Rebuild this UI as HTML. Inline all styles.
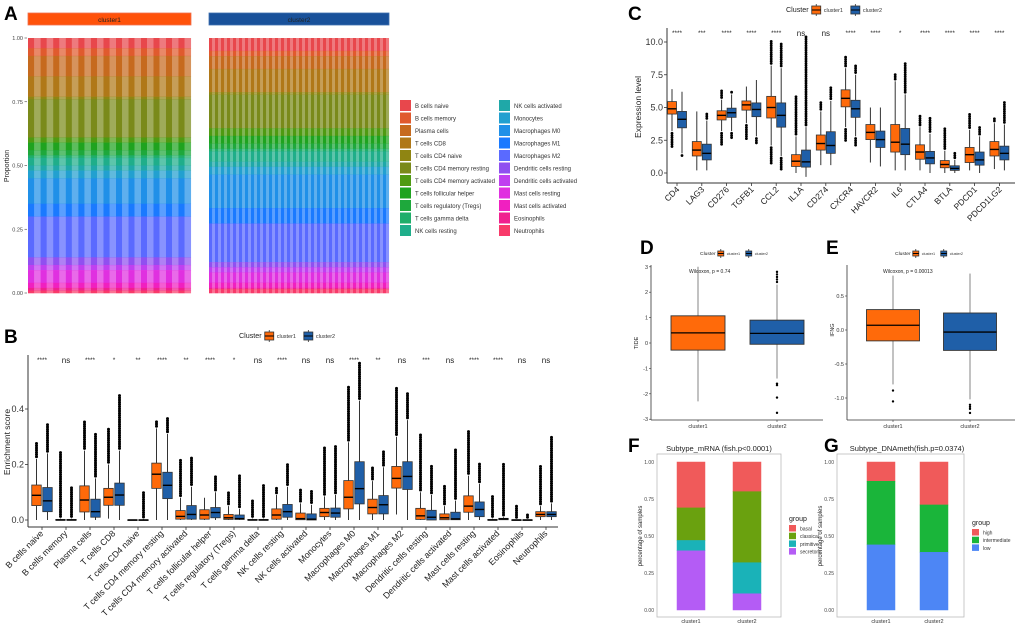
<!DOCTYPE html>
<html><head><meta charset="utf-8">
<style>
html,body{margin:0;padding:0;background:#fff;}
svg{display:block;font-family:"Liberation Sans",Arial,sans-serif;}
</style></head>
<body>
<svg id="fig" width="1020" height="628" viewBox="0 0 1020 628" xmlns="http://www.w3.org/2000/svg">
<rect x="0" y="0" width="1020" height="628" fill="#fff"/>
</svg>
<script>
// ---------- Panel A data ----------
const aCellTypes=["B cells naive","B cells memory","Plasma cells","T cells CD8","T cells CD4 naive","T cells CD4 memory resting","T cells CD4 memory activated","T cells follicular helper","T cells regulatory (Tregs)","T cells gamma delta","NK cells resting","NK cells activated","Monocytes","Macrophages M0","Macrophages M1","Macrophages M2","Dendritic cells resting","Dendritic cells activated","Mast cells resting","Mast cells activated","Eosinophils","Neutrophils"];
const aColors=["#e8474c","#e05a2e","#c66a1e","#b07818","#8f8512","#7a8a1a","#4f9a12","#1fa31f","#1ea83c","#1fae6a","#1fae8a","#1fa8a8","#22a0d0","#2090e8","#1a7aff","#5a6aff","#9050f0","#c040f0","#e030e0","#f020c0","#f0208f","#f83a6a"];
const aPropC1=[0.04,0.03,0.08,0.08,0.01,0.15,0.02,0.03,0.02,0.01,0.03,0.02,0.03,0.10,0.05,0.16,0.03,0.02,0.05,0.02,0.01,0.01];
const aPropC2=[0.05,0.02,0.05,0.09,0.01,0.13,0.03,0.03,0.02,0.01,0.04,0.02,0.03,0.13,0.06,0.15,0.02,0.02,0.04,0.02,0.005,0.015];
const aSamplesC1=26;
const aSamplesC2=60;
const aTicks=[0,0.25,0.5,0.75,1];
// ---------- Panel B data ----------
const bCats=["B cells naive","B cells memory","Plasma cells","T cells CD8","T cells CD4 naive","T cells CD4 memory resting","T cells CD4 memory activated","T cells follicular helper","T cells regulatory (Tregs)","T cells gamma delta","NK cells resting","NK cells activated","Monocytes","Macrophages M0","Macrophages M1","Macrophages M2","Dendritic cells resting","Dendritic cells activated","Mast cells resting","Mast cells activated","Eosinophils","Neutrophils"];
const bSig=["****","ns","****","*","**","****","**","****","*","ns","****","ns","ns","****","**","ns","***","ns","****","****","ns","ns"];
// [outLo, lo, q1, med, q3, hi, outHi]
const bC1=[[0,0,.052,.089,.126,.22,.28],[0,0,0,0,.002,.005,.25],[0,0,.029,.072,.123,.25,.36],[.005,.005,.053,.082,.114,.2,.33],[0,0,0,0,.001,.002,.002],[0,0,.114,.165,.205,.33,.36],[0,0,.003,.013,.034,.08,.22],[0,0,.003,.018,.037,.08,.08],[0,0,.002,.008,.02,.05,.10],[0,0,0,0,.002,.005,.07],[0,0,.003,.018,.04,.09,.12],[0,0,.001,.005,.025,.06,.115],[0,0,.012,.027,.042,.085,.265],[0,0,.04,.082,.142,.28,.48],[0,0,.022,.045,.075,.14,.19],[.02,.02,.115,.15,.193,.3,.48],[0,0,.002,.015,.042,.1,.31],[0,0,.001,.008,.022,.05,.125],[0,0,.028,.05,.087,.16,.32],[0,0,0,0,.002,.005,.09],[0,0,0,0,.001,.002,.05],[0,0,.012,.02,.03,.05,.2]];
const bC2=[[0,0,.03,.069,.117,.24,.345],[0,0,0,0,.002,.005,.12],[0,0,.01,.03,.075,.15,.31],[0,0,.053,.09,.133,.25,.45],[0,0,0,0,.001,.003,.1],[0,0,.077,.125,.172,.31,.37],[0,0,.003,.02,.052,.12,.23],[0,0,.008,.027,.045,.1,.16],[0,0,.002,.005,.018,.04,.16],[0,0,0,0,.002,.005,.13],[0,0,.01,.03,.056,.12,.2],[0,0,0,.003,.022,.055,.11],[0,0,.01,.025,.043,.09,.27],[0,0,.058,.113,.21,.43,.57],[0,0,.022,.055,.088,.19,.25],[0,0,.11,.157,.21,.36,.46],[0,0,0,.01,.035,.09,.2],[0,0,.001,.004,.028,.07,.255],[0,0,.012,.038,.065,.13,.205],[0,0,.001,.004,.006,.01,.205],[0,0,0,0,.001,.002,.02],[0,0,.012,.02,.03,.06,.3]];
const bTicks=[0,0.2,0.4];
// ---------- Panel C data ----------
const cCats=["CD4","LAG3","CD276","TGFB1","CCL2","IL1A","CD274","CXCR4","HAVCR2","IL6","CTLA4","BTLA","PDCD1","PDCD1LG2"];
const cSig=["****","***","****","****","****","ns","ns","****","****","*","****","****","****","****"];
const cC1=[[2.0,3.2,4.5,4.9,5.45,6.4,6.4],[.2,.2,1.3,1.75,2.4,4.7,4.7],[2.2,3.2,4.05,4.4,4.75,5.6,6.4],[2.6,3.8,4.8,5.2,5.5,6.6,6.6],[.6,2.1,4.2,5.0,5.85,8.2,10.1],[0,0,.5,.9,1.4,2.8,5.9],[.6,.6,1.75,2.25,2.9,4.7,5.5],[2.5,3.5,5.05,5.7,6.35,8.0,8.9],[.8,.8,2.55,3.1,3.7,5.0,5.0],[.2,.2,1.6,2.35,3.7,7.0,7.6],[.2,.2,1.05,1.6,2.15,3.5,4.5],[0,0,.4,.65,.95,1.7,3.5],[.2,.2,.8,1.4,1.95,3.3,4.6],[.3,.3,1.3,1.8,2.4,3.8,4.2]];
const cC2=[[1.2,1.5,3.45,4.1,4.7,6.2,6.2],[.2,.2,1.0,1.5,2.2,4.0,4.6],[2.6,3.2,4.25,4.6,4.95,6.0,6.2],[2.3,2.8,4.3,4.85,5.35,7.1,7.1],[.3,1.3,3.5,4.4,5.35,8.0,10.0],[-.3,-.3,.45,.85,1.75,3.5,10.5],[.6,.6,1.5,2.1,3.15,5.5,6.6],[2.0,2.8,4.25,4.9,5.55,7.5,8.2],[.5,.5,1.95,2.55,3.2,5.0,5.0],[.2,.2,1.4,2.2,3.4,6.0,8.4],[0,0,.7,1.15,1.65,3.0,4.3],[0,0,.2,.35,.55,1.0,1.6],[0,0,.6,1.0,1.6,2.8,3.5],[.2,.2,1.0,1.5,2.05,3.7,5.5]];
const cTicks=[0,2.5,5,7.5,10];
// ---------- Panel D/E data ----------
const dGroups=["cluster1","cluster2"];
const dStats=[[-2.3,-0.28,0.4,1.07,3.0],[-1.4,-0.05,0.38,0.9,2.3]];
const dOut1=[];
const dOut2=[2.4,2.5,2.6,2.7,2.8,-1.6,-1.66,-2.15,-2.75];
const dTicks=[-3,-2,-1,0,1,2,3];
const eStats=[[-0.8,-0.16,0.07,0.3,0.8],[-1.02,-0.3,-0.03,0.25,0.83]];
const eOut1=[-0.89,-1.05];
const eOut2=[-1.1,-1.13,-1.16,-1.22];
const eTicks=[-1,-0.5,0,0.5];
// ---------- Panel F/G data ----------
const fGroups=["basal","classical","primitive","secretory"];
const fColors=["#f05a5a","#6aa10f","#1ab2b8","#b45cf5"];
const fC1=[0.31,0.22,0.07,0.40];
const fC2=[0.20,0.48,0.21,0.11];
const gGroups=["high","intermediate","low"];
const gColors=["#f05a5a","#1ab53a","#4d86f5"];
const gC1=[0.13,0.43,0.44];
const gC2=[0.29,0.32,0.39];
const pTicks=[0,0.25,0.5,0.75,1];

const ORANGE="#ff6a0a", BLUE="#1f5fa8";
const NS='http://www.w3.org/2000/svg';
const svg=document.getElementById('fig');
function mk(tag,attrs,parent){const e=document.createElementNS(NS,tag);for(const k in attrs)e.setAttribute(k,attrs[k]);(parent||svg).appendChild(e);return e;}
function txt(x,y,s,attrs,parent){const e=mk('text',Object.assign({x:x,y:y},attrs||{}),parent);e.textContent=s;return e;}
function grp(name,parent){const g=mk('g',{},parent);


return g;}

[["A",4,20],["B",4,343],["C",628,20],["D",640,254],["E",826,254],["F",628,452],["G",824,452]].forEach(function(p){
const t=txt(p[1],p[2],p[0],{'font-size':19,'font-weight':'bold',fill:'#000'});


});

function drawBox(g,cx,w,s,ys,color,r,name){
const bg=grp(name,g);
mk('line',{x1:cx,x2:cx,y1:ys(s[1]),y2:ys(s[2]),stroke:'#333','stroke-width':1},bg);
mk('line',{x1:cx,x2:cx,y1:ys(s[4]),y2:ys(s[5]),stroke:'#333','stroke-width':1},bg);
const rc=mk('rect',{x:cx-w/2,y:ys(s[4]),width:w,height:Math.max(0.8,ys(s[2])-ys(s[4])),fill:color,stroke:'#333','stroke-width':0.8},bg);


mk('line',{x1:cx-w/2,x2:cx+w/2,y1:ys(s[3]),y2:ys(s[3]),stroke:'#000','stroke-width':1.4},bg);
const top=ys(s[6]), hiY=ys(s[5]);
for(let y=hiY-2.2;y>=top-0.1;y-=2.2){mk('circle',{cx:cx,cy:y,r:r,fill:'#000'},bg);}
if(s[6]>s[5]+1e-9 && hiY-top<2.2){mk('circle',{cx:cx,cy:top,r:r,fill:'#000'},bg);}
const bot=ys(s[0]), loY=ys(s[1]);
for(let y=loY+2.2;y<=bot+0.1;y+=2.2){mk('circle',{cx:cx,cy:y,r:r,fill:'#000'},bg);}
if(s[0]<s[1]-1e-9 && bot-loY<2.2){mk('circle',{cx:cx,cy:bot,r:r,fill:'#000'},bg);}
}
function clusterLegend(g,x,y,fs,bw,bh,gap){
const t=txt(x,y+bh/2+fs*0.35,"Cluster",{'font-size':fs*1.3,fill:'#222'},g);


let cx=x+fs*1.3*3.6;
[["cluster1",ORANGE],["cluster2",BLUE]].forEach(function(it){
const e=grp('legend-entry-'+it[0],g);
mk('line',{x1:cx+bw/2,x2:cx+bw/2,y1:y-2,y2:y+bh+2,stroke:'#333','stroke-width':0.8},e);
mk('rect',{x:cx,y:y,width:bw,height:bh,fill:it[1],stroke:'#333','stroke-width':0.8},e);
mk('line',{x1:cx,x2:cx+bw,y1:y+bh/2,y2:y+bh/2,stroke:'#000','stroke-width':1},e);
txt(cx+bw+3,y+bh/2+fs*0.35,it[0],{'font-size':fs,fill:'#333'},e);
cx+=bw+3+fs*4.2+gap;
});
}

// ---------- Panel A ----------
(function(){
const g=grp('panel-a-stacked-bars');
const yA=function(v){return 293-v*255;};
function drawCluster(x0,x1,n,props,name){
const cg=grp(name,g);
const tot=props.reduce(function(a,b){return a+b;},0);
const w=(x1-x0)/n;
for(let i=0;i<n;i++){
let cum=1;
for(let k=0;k<props.length;k++){
const p=props[k]/tot;
const r=mk('rect',{x:x0+i*w,y:yA(cum),width:w+0.05,height:p*255+0.3,fill:aColors[k],opacity:(i%2?0.72:1)},cg);


cum-=p;
}
}
}
drawCluster(28,191,aSamplesC1,aPropC1,'cluster1-bars');
drawCluster(209,389,aSamplesC2,aPropC2,'cluster2-bars');
const s1=mk('rect',{x:28,y:13,width:163,height:12,fill:'#ff520a',stroke:'#f07050','stroke-width':0.8},g);


const s1t=txt(109.5,22,'cluster1',{'font-size':6.5,'text-anchor':'middle',fill:'#222'},g);


const s2=mk('rect',{x:209,y:13,width:180,height:12,fill:'#19519a',stroke:'#4070b0','stroke-width':0.8},g);


const s2t=txt(299,22,'cluster2',{'font-size':6.5,'text-anchor':'middle',fill:'#222'},g);


aTicks.forEach(function(v){
const t=txt(23,yA(v)+2,v.toFixed(2),{'font-size':5.5,'text-anchor':'end',fill:'#444'},g);


mk('line',{x1:24.5,x2:27,y1:yA(v),y2:yA(v),stroke:'#444','stroke-width':0.6},g);
});
const yl=txt(0,0,'Proportion',{'font-size':7,'text-anchor':'middle',fill:'#222',transform:'translate(9,166) rotate(-90)'},g);


const lg=grp('panel-a-legend',g);
aCellTypes.forEach(function(n,k){
const col=k<11?0:1, row=k%11;
const x=col?499:400, y=100+row*12.5;
const e=grp('legend-entry',lg);
mk('rect',{x:x,y:y,width:11,height:11,fill:aColors[k]},e);
txt(x+15,y+8,n,{'font-size':6,fill:'#333'},e);
});
})();

// ---------- Panel B ----------
(function(){
const g=grp('panel-b-boxplot');
const yB=function(v){return 520-v*277.5;};
const xB=function(i){return 42+i*24;};
mk('line',{x1:28,x2:28,y1:355,y2:527,stroke:'#333','stroke-width':1},g);
mk('line',{x1:28,x2:558,y1:527,y2:527,stroke:'#333','stroke-width':1},g);
bTicks.forEach(function(v){
const t=txt(24,yB(v)+3,v.toFixed(1),{'font-size':9,'text-anchor':'end',fill:'#333'},g);


mk('line',{x1:25,x2:28,y1:yB(v),y2:yB(v),stroke:'#333','stroke-width':0.8},g);
});
const yl=txt(0,0,'Enrichment score',{'font-size':8.5,'text-anchor':'middle',fill:'#222',transform:'translate(10,442) rotate(-90)'},g);


bCats.forEach(function(c,i){
const x=xB(i);
drawBox(g,x-5.5,9.5,bC1[i],yB,ORANGE,1.5,'box-cluster1-'+i);
drawBox(g,x+5.5,9.5,bC2[i],yB,BLUE,1.5,'box-cluster2-'+i);
mk('line',{x1:x,x2:x,y1:527,y2:530,stroke:'#333','stroke-width':0.8},g);
const t=txt(x+2,534,c,{'font-size':8.8,'text-anchor':'end',fill:'#222',transform:'rotate(-45 '+(x+2)+' 534)'},g);


const s=txt(x,bSig[i]==='ns'?363:362,bSig[i],{'font-size':bSig[i]==='ns'?8:6.5,'text-anchor':'middle',fill:'#222'},g);


});
clusterLegend(grp('panel-b-legend',g),239,332,5.5,9,8,4);
})();

// ---------- Panel C ----------
(function(){
const g=grp('panel-c-boxplot');
const yC=function(v){return 173-v*13.1;};
const xC=function(i){return 677+i*24.8;};
mk('line',{x1:667,x2:667,y1:28,y2:183,stroke:'#333','stroke-width':1},g);
mk('line',{x1:667,x2:1015,y1:183,y2:183,stroke:'#333','stroke-width':1},g);
cTicks.forEach(function(v){
const t=txt(663,yC(v)+3,v.toFixed(1),{'font-size':9,'text-anchor':'end',fill:'#333'},g);


mk('line',{x1:664,x2:667,y1:yC(v),y2:yC(v),stroke:'#333','stroke-width':0.8},g);
});
const yl=txt(0,0,'Expression level',{'font-size':8.5,'text-anchor':'middle',fill:'#222',transform:'translate(641,107) rotate(-90)'},g);


cCats.forEach(function(c,i){
const x=xC(i);
drawBox(g,x-5,9,cC1[i],yC,ORANGE,1.4,'box-cluster1-'+c);
drawBox(g,x+5,9,cC2[i],yC,BLUE,1.4,'box-cluster2-'+c);
mk('line',{x1:x,x2:x,y1:183,y2:186,stroke:'#333','stroke-width':0.8},g);
const t=txt(x+3,190,c,{'font-size':8.5,'text-anchor':'end',fill:'#222',transform:'rotate(-45 '+(x+3)+' 190)'},g);


const s=txt(x,cSig[i]==='ns'?36:35,cSig[i],{'font-size':cSig[i]==='ns'?8:6.5,'text-anchor':'middle',fill:'#222'},g);


});
clusterLegend(grp('panel-c-legend',g),786,6,5.5,9,8,4);
})();

// ---------- Panels D / E ----------
function drawDE(name,x0,x1,ys,ticks,stats,outs,centers,bw,ylab,wil,wx,legX,dec){
const g=grp(name);
mk('line',{x1:x0,x2:x0,y1:265,y2:420,stroke:'#333','stroke-width':0.8},g);
mk('line',{x1:x0,x2:x1,y1:420,y2:420,stroke:'#333','stroke-width':0.8},g);
ticks.forEach(function(v){
const t=txt(x0-3,ys(v)+2,dec?v.toFixed(1):String(v),{'font-size':5.5,'text-anchor':'end',fill:'#333'},g);


mk('line',{x1:x0-2,x2:x0,y1:ys(v),y2:ys(v),stroke:'#333','stroke-width':0.6},g);
});
const yl=txt(0,0,ylab,{'font-size':5.5,'text-anchor':'middle',fill:'#222',transform:'translate('+(x0-13)+','+ys(0)+') rotate(-90)'},g);


dGroups.forEach(function(gn,i){
const s=stats[i], cx=centers[i];
const bg=grp('box-'+gn,g);
mk('line',{x1:cx,x2:cx,y1:ys(s[0]),y2:ys(s[4]),stroke:'#999','stroke-width':1.2},bg);
const rc=mk('rect',{x:cx-bw/2,y:ys(s[3]),width:bw,height:ys(s[1])-ys(s[3]),fill:i?BLUE:ORANGE,stroke:'#333','stroke-width':0.9},bg);


mk('line',{x1:cx-bw/2,x2:cx+bw/2,y1:ys(s[2]),y2:ys(s[2]),stroke:'#000','stroke-width':1.3},bg);
outs[i].forEach(function(v){
const d=mk('circle',{cx:cx,cy:ys(v),r:1.2,fill:'#000'},bg);


});
mk('line',{x1:cx,x2:cx,y1:420,y2:422,stroke:'#333','stroke-width':0.6},g);
const t=txt(cx,428,gn,{'font-size':5.5,'text-anchor':'middle',fill:'#333'},g);


});
const w=txt(wx,273,wil,{'font-size':5,fill:'#222'},g);


clusterLegend(grp(name+'-legend',g),legX,251,3.8,6,5,3);
}
drawDE('panel-d-tide',651,823,function(v){return 343-v*25.4;},dTicks,dStats,[dOut1,dOut2],[698,777],54,'TIDE','Wilcoxon, p = 0.74',689,700,false);
drawDE('panel-e-ifng',847,1015,function(v){return 330-v*68;},eTicks,eStats,[eOut1,eOut2],[893,970],53,'IFNG','Wilcoxon, p = 0.00013',883,895,true);

// ---------- Panels F / G ----------
function drawStack(name,bx0,bx1,title,tx,groups,colors,c1,c2,barX,legX,legY){
const g=grp(name);
const yP=function(v){return 610-v*148;};
const fr=mk('rect',{x:bx0,y:454,width:bx1-bx0,height:163,fill:'none',stroke:'#bbb','stroke-width':0.8},g);


const t=txt(tx,451,title,{'font-size':7.5,'text-anchor':'middle',fill:'#222'},g);


pTicks.forEach(function(v){
const tt=txt(bx0-3,yP(v)+2,v.toFixed(2),{'font-size':5,'text-anchor':'end',fill:'#444'},g);


});
const yl=txt(0,0,'percentage of samples',{'font-size':6,'text-anchor':'middle',fill:'#222',transform:'translate('+(bx0-15)+',536) rotate(-90)'},g);


[c1,c2].forEach(function(vals,i){
let cum=1;
vals.forEach(function(v,k){
const r=mk('rect',{x:barX[i],y:yP(cum),width:28,height:v*148,fill:colors[k],stroke:colors[k],'stroke-width':0.5},g);


cum-=v;
});
const xl=txt(barX[i]+14,623,'cluster'+(i+1),{'font-size':5.5,'text-anchor':'middle',fill:'#333'},g);


});
const lt=txt(legX,legY,'group',{'font-size':7,fill:'#222'},g);


groups.forEach(function(n,k){
const e=grp('legend-entry-'+n,g);
mk('rect',{x:legX,y:legY+4+k*7.7,width:7,height:6.5,fill:colors[k]},e);
txt(legX+11,legY+9.5+k*7.7,n,{'font-size':5,fill:'#333'},e);
});
}
drawStack('panel-f-mrna',657,781,'Subtype_mRNA (fish.p<0.0001)',719,fGroups,fColors,fC1,fC2,[677,733],789,521);
drawStack('panel-g-dnameth',837,964,'Subtype_DNAmeth(fish.p=0.0374)',907,gGroups,gColors,gC1,gC2,[867,920],972,525);
</script>
</body></html>
